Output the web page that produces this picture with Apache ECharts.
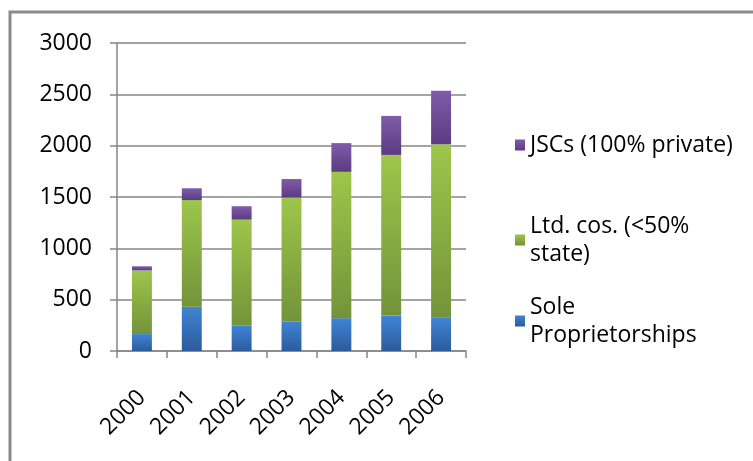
<!DOCTYPE html>
<html>
<head>
<meta charset="utf-8">
<script src="https://cdn.jsdelivr.net/npm/echarts@6/dist/echarts.min.js"></script>
<style>
  html, body { margin: 0; padding: 0; background: #fff; }
  #chart { width: 753px; height: 461px; }
</style>
</head>
<body>
<div id="chart"></div>
<script>
// Registered businesses by legal form, 2000-2006
const years = ['2000', '2001', '2002', '2003', '2004', '2005', '2006'];
const soleProprietorships = [165, 430, 245, 285, 320, 345, 325];
const ltdCompanies = [620, 1040, 1035, 1210, 1425, 1565, 1690];
const jscs = [40, 115, 130, 180, 280, 380, 520];
const yTicks = [0, 500, 1000, 1500, 2000, 2500, 3000];

const seriesNames = {
  sole: 'Sole Proprietorships',
  ltd: 'Ltd. cos. (<50% state)',
  jsc: 'JSCs (100% private)'
};
const legendText = {
  'Sole Proprietorships': 'Sole\nProprietorships',
  'Ltd. cos. (<50% state)': 'Ltd. cos. (<50%\nstate)',
  'JSCs (100% private)': 'JSCs (100% private)'
};

const FONT = '"Open Sans", Lato, sans-serif';
const FONT_SIZE = 23;
const AXIS_GREY = '#868686';

function grad(top, bottom) {
  return new echarts.graphic.LinearGradient(0, 0, 0, 1, [
    { offset: 0, color: top },
    { offset: 1, color: bottom }
  ]);
}

function legendFor(name, top, twoLines) {
  return {
    show: true,
    orient: 'vertical',
    left: 515,
    top: top,
    itemWidth: 10,
    itemHeight: 11,
    icon: 'rect',
    selectedMode: false,
    padding: 0,
    data: [name],
    formatter: n => legendText[n],
    textStyle: {
      fontFamily: FONT,
      fontSize: FONT_SIZE,
      color: '#000',
      lineHeight: 28,
      padding: twoLines ? [28, 0, 0, 0] : [0, 0, 0, 0]
    }
  };
}

const chart = echarts.init(document.getElementById('chart'), null, { renderer: 'canvas' });

chart.setOption({
  animation: false,
  backgroundColor: '#ffffff',
  graphic: [{
    type: 'rect',
    silent: true,
    z: -10,
    shape: { x: 10, y: 12, width: 900, height: 600 },
    style: { fill: 'none', stroke: '#8a8a8a', lineWidth: 3 }
  }],
  grid: { left: 117, right: 287, top: 43, bottom: 110, containLabel: false },
  legend: [
    legendFor(seriesNames.jsc, 131, false),
    legendFor(seriesNames.ltd, 198, true),
    legendFor(seriesNames.sole, 279, true)
  ],
  xAxis: {
    type: 'category',
    data: years,
    boundaryGap: true,
    axisLine: { show: true, lineStyle: { color: AXIS_GREY, width: 1.5 } },
    axisTick: { show: true, length: 7, alignWithLabel: false, lineStyle: { color: AXIS_GREY, width: 1.5 } },
    axisLabel: {
      rotate: 45,
      margin: 43,
      fontFamily: FONT,
      fontSize: FONT_SIZE,
      color: '#000'
    }
  },
  yAxis: {
    type: 'value',
    min: yTicks[0],
    max: yTicks[yTicks.length - 1],
    interval: 500,
    axisLine: { show: true, lineStyle: { color: AXIS_GREY, width: 1.5 } },
    axisTick: { show: true, length: 7, lineStyle: { color: AXIS_GREY, width: 1.5 } },
    splitLine: { show: true, lineStyle: { color: AXIS_GREY, width: 1.5 } },
    axisLabel: {
      margin: 25,
      fontFamily: FONT,
      fontSize: FONT_SIZE,
      color: '#000',
      formatter: v => String(v)
    }
  },
  series: [
    {
      name: seriesNames.sole,
      type: 'bar',
      stack: 'total',
      barWidth: '40%',
      data: soleProprietorships,
      itemStyle: { color: grad('#4084d4', '#2b5b9c') }
    },
    {
      name: seriesNames.ltd,
      type: 'bar',
      stack: 'total',
      barWidth: '40%',
      data: ltdCompanies,
      itemStyle: { color: grad('#9dc64b', '#73933a') }
    },
    {
      name: seriesNames.jsc,
      type: 'bar',
      stack: 'total',
      barWidth: '40%',
      data: jscs,
      itemStyle: { color: grad('#805ca9', '#5b3b81') }
    }
  ]
});
</script>
</body>
</html>
